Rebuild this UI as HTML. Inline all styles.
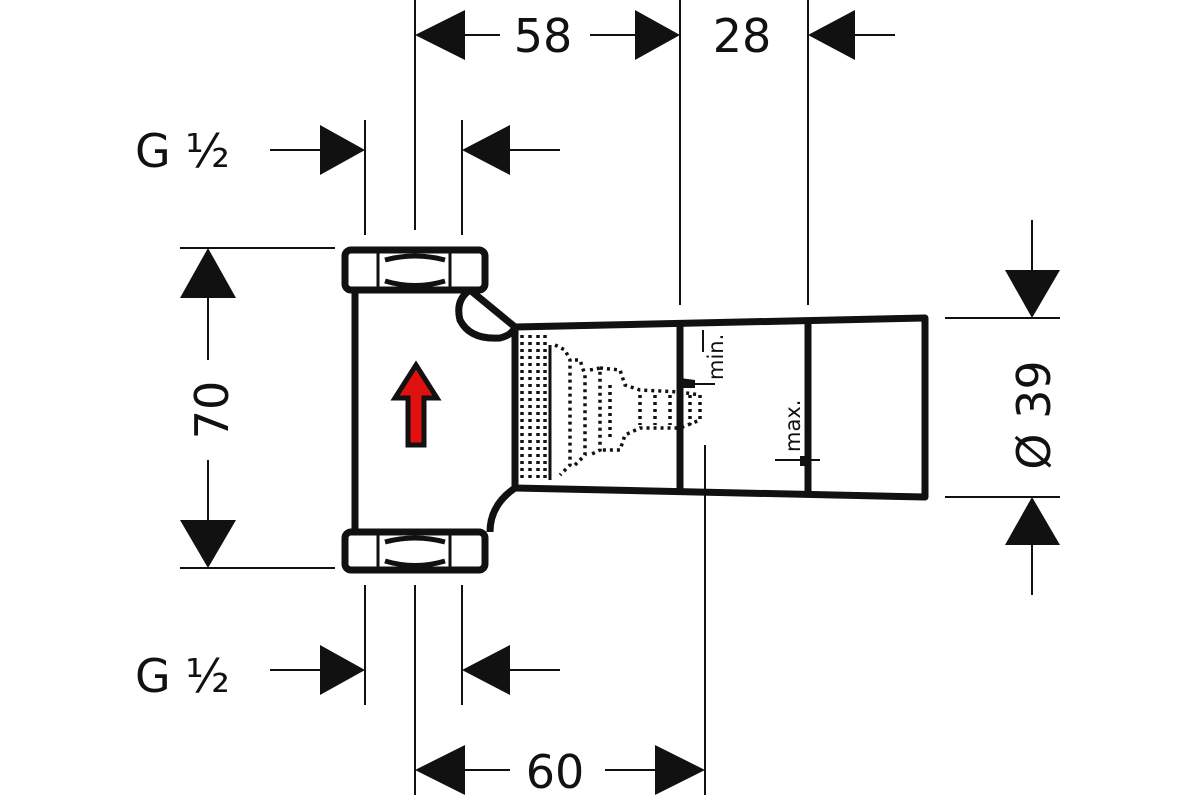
<!DOCTYPE html>
<html><head><style>body{margin:0;background:#fff}svg{display:block}</style></head><body>
<svg width="1200" height="800" viewBox="0 0 1200 800" xmlns="http://www.w3.org/2000/svg" font-family="'DejaVu Sans','Liberation Sans',sans-serif">
<g stroke="#111" stroke-width="2" fill="none">
<line x1="415" y1="0" x2="415" y2="230"/>
<line x1="680" y1="0" x2="680" y2="305"/>
<line x1="808" y1="0" x2="808" y2="305"/>
<line x1="465" y1="35" x2="500" y2="35"/>
<line x1="590" y1="35" x2="635" y2="35"/>
<line x1="855" y1="35" x2="895" y2="35"/>
<line x1="365" y1="120" x2="365" y2="235"/>
<line x1="462" y1="120" x2="462" y2="235"/>
<line x1="270" y1="150" x2="320" y2="150"/>
<line x1="510" y1="150" x2="560" y2="150"/>
<line x1="365" y1="585" x2="365" y2="705"/>
<line x1="415" y1="585" x2="415" y2="795"/>
<line x1="462" y1="585" x2="462" y2="705"/>
<line x1="705" y1="445" x2="705" y2="795"/>
<line x1="270" y1="670" x2="320" y2="670"/>
<line x1="510" y1="670" x2="560" y2="670"/>
<line x1="465" y1="770" x2="510" y2="770"/>
<line x1="605" y1="770" x2="655" y2="770"/>
<line x1="180" y1="248" x2="335" y2="248"/>
<line x1="180" y1="568" x2="335" y2="568"/>
<line x1="208" y1="298" x2="208" y2="360"/>
<line x1="208" y1="460" x2="208" y2="520"/>
<line x1="945" y1="318" x2="1060" y2="318"/>
<line x1="945" y1="497" x2="1060" y2="497"/>
<line x1="1032" y1="220" x2="1032" y2="270"/>
<line x1="1032" y1="545" x2="1032" y2="595"/>
<line x1="703" y1="352" x2="703" y2="330"/>
</g>
<g fill="#111">
<polygon points="415,35 465,10 465,60"/>
<polygon points="680,35 635,10 635,60"/>
<polygon points="808,35 855,10 855,60"/>
<polygon points="365,150 320,125 320,175"/>
<polygon points="462,150 510,125 510,175"/>
<polygon points="365,670 320,645 320,695"/>
<polygon points="462,670 510,645 510,695"/>
<polygon points="415,770 465,745 465,795"/>
<polygon points="705,770 655,745 655,795"/>
<polygon points="208,248 180,298 236,298"/>
<polygon points="208,568 180,520 236,520"/>
<polygon points="1032,318 1005,270 1060,270"/>
<polygon points="1032,497 1005,545 1060,545"/>
</g>
<g font-size="46" fill="#111">
<text x="543" y="52" text-anchor="middle">58</text>
<text x="742" y="52" text-anchor="middle">28</text>
<text x="555" y="788" text-anchor="middle">60</text>
<text x="135" y="167">G ½</text>
<text x="135" y="692">G ½</text>
<text transform="translate(228,410) rotate(-90)" text-anchor="middle">70</text>
<text transform="translate(1050,415) rotate(-90)" text-anchor="middle">Ø 39</text>
</g>
<g stroke="#111" stroke-width="7" fill="none" stroke-linejoin="round">
<line x1="355" y1="290" x2="355" y2="532"/>
<path d="M470,290 L515,327 M490,532 Q490,505 515,488"/>
<path d="M470,290 Q455,300 460,320 Q470,340 500,338 Q512,335 515,327"/>
<polygon points="515,327 925,318 925,497 515,488"/>
<line x1="680" y1="325" x2="680" y2="490"/>
<line x1="808" y1="322" x2="808" y2="494"/>
<rect x="345" y="250" width="140" height="40" rx="6"/>
<rect x="345" y="532" width="140" height="38" rx="6"/>
</g>
<g stroke="#111" stroke-width="3" fill="none">
<line x1="378" y1="252" x2="378" y2="288"/><line x1="450" y1="252" x2="450" y2="288"/>
<line x1="378" y1="534" x2="378" y2="568"/><line x1="450" y1="534" x2="450" y2="568"/>
<path d="M385,260 Q415,252 445,260 M385,281 Q415,290 445,281" stroke-width="5"/>
<path d="M385,542 Q415,534 445,542 M385,561 Q415,570 445,561" stroke-width="5"/>
<line x1="550" y1="345" x2="550" y2="480"/>
<line x1="680" y1="384" x2="715" y2="384" stroke-width="2"/>
<line x1="775" y1="460" x2="820" y2="460" stroke-width="2"/>
</g>
<g stroke="#111" stroke-width="3.5" stroke-dasharray="3,4" fill="none">
<line x1="522" y1="335" x2="522" y2="480"/>
<line x1="530" y1="335" x2="530" y2="480"/>
<line x1="538" y1="335" x2="538" y2="480"/>
<line x1="545" y1="335" x2="545" y2="480"/>
<path d="M555,345 L565,350 L570,360 L570,465 L560,475"/>
<path d="M575,360 L580,360 L585,375 L585,455 L575,465"/>
<path d="M590,370 L600,368 L600,450 L590,455"/>
<path d="M600,368 L620,370 L625,385 L640,390 L680,392 L700,395 L700,420 L680,428 L640,428 L625,435 L620,450 L600,450"/>
<path d="M610,385 L610,440 M640,395 L640,425 M655,395 L655,425 M670,395 L670,425 M690,395 L690,425"/>
</g>
<polygon points="680,378 695,380 695,388 680,388" fill="#111"/>
<polygon points="800,456 808,456 808,466 800,466" fill="#111"/>
<text transform="translate(723,380) rotate(-90)" font-size="21" fill="#111">min.</text>
<text transform="translate(800,452) rotate(-90)" font-size="21" fill="#111">max.</text>
<polygon points="416,365 437,398 424,398 424,445 408,445 408,398 395,398" fill="#e01010" stroke="#111" stroke-width="5" stroke-linejoin="miter"/>
</svg>
</body></html>
